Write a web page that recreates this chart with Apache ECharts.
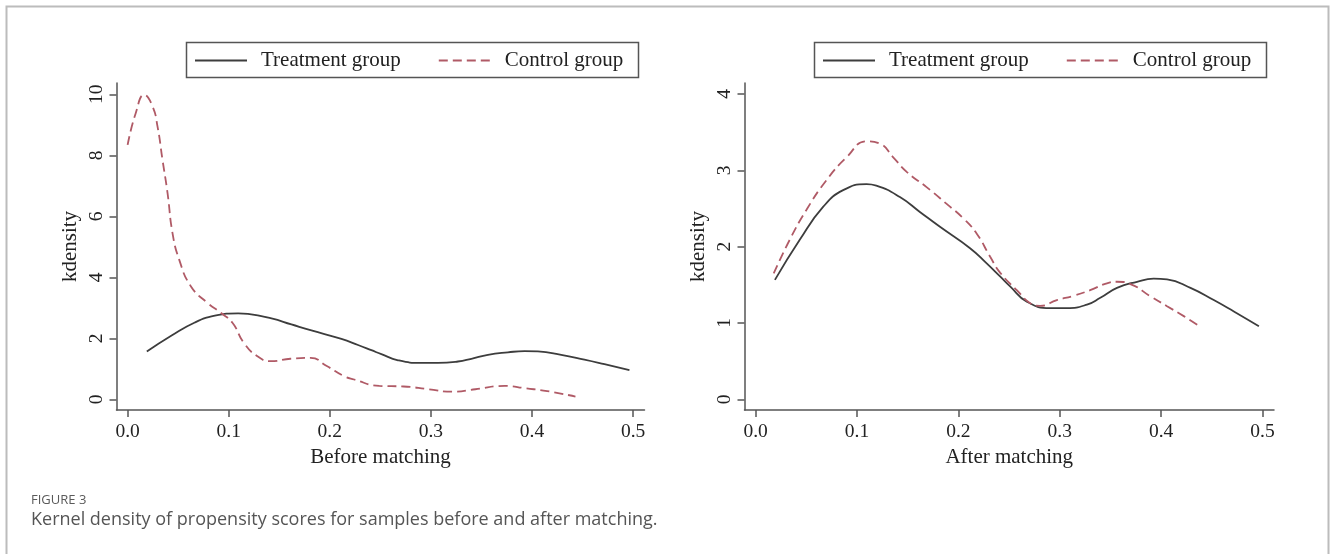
<!DOCTYPE html>
<html><head><meta charset="utf-8">
<script src="https://cdn.jsdelivr.net/npm/echarts@6/dist/echarts.min.js"></script>
<style>html,body{margin:0;padding:0;background:#fff}#c{width:1330px;height:554px}</style>
</head><body><div id="c"></div>
<script>
// ---- data ----
const xTicks = [0, 0.1, 0.2, 0.3, 0.4, 0.5];
const yTicksBefore = [0, 2, 4, 6, 8, 10];
const yTicksAfter = [0, 1, 2, 3, 4];
const seriesNames = ['Treatment group', 'Control group'];
const panelTitles = ['Before matching', 'After matching'];
const yTitle = 'kdensity';
const captionLabel = 'FIGURE 3';
const captionText = 'Kernel density of propensity scores for samples before and after matching.';

const treatment = [
  [0.019,1.565],[0.0435,2.09],[0.0665,2.52],[0.0863,2.74],[0.1094,2.82],[0.119,2.80],
  [0.1423,2.65],[0.162,2.455],[0.1818,2.26],[0.2115,1.98],[0.2279,1.78],[0.2411,1.61],
  [0.251,1.48],[0.2675,1.28],[0.2905,1.195],[0.307,1.195],[0.3268,1.24],[0.34,1.33],
  [0.3564,1.46],[0.3762,1.54],[0.3926,1.58],[0.4058,1.57],[0.4289,1.46],[0.4519,1.30],
  [0.4717,1.15],[0.4964,0.956]
];
const controlBefore = [
  [0.0,8.34],[0.008,9.38],[0.0164,9.98],[0.0247,9.6],[0.0296,8.94],[0.0345,7.85],
  [0.0395,6.76],[0.0444,5.45],[0.051,4.58],[0.0625,3.71],[0.079,3.16],[0.092,2.84],
  [0.1037,2.51],[0.115,1.85],[0.128,1.42],[0.1415,1.25],[0.161,1.33],[0.181,1.36],
  [0.197,1.09],[0.214,0.76],[0.224,0.65],[0.249,0.44],[0.273,0.42],[0.298,0.33],
  [0.321,0.25],[0.344,0.33],[0.373,0.44],[0.394,0.36],[0.415,0.27],[0.443,0.09]
];
const controlAfter = [
  [0.0178,1.65],[0.0336,2.09],[0.05,2.48],[0.0698,2.87],[0.0896,3.17],[0.1094,3.38],
  [0.1225,3.35],[0.1357,3.17],[0.149,2.98],[0.1686,2.78],[0.1884,2.56],[0.2049,2.37],
  [0.2181,2.17],[0.2312,1.87],[0.2411,1.66],[0.2576,1.43],[0.2708,1.26],[0.2806,1.225],
  [0.2971,1.30],[0.3136,1.356],[0.33,1.43],[0.3465,1.52],[0.3564,1.54],[0.3696,1.51],
  [0.3893,1.35],[0.4058,1.22],[0.4223,1.09],[0.438,0.956]
];

// ---- styling ----
const SERIF = '"Liberation Serif","Times New Roman",serif';
const AXIS_COLOR = '#555';
const TREAT_COLOR = '#3d3d3d';
const CTRL_COLOR = '#b05a66';

function xAxisFor(gridIndex, title) {
  return {
    type: 'value', gridIndex, min: -0.011, max: 0.5113,
    axisLine: { show: true, onZero: false, lineStyle: { color: AXIS_COLOR, width: 1.5 } },
    axisTick: { show: true, length: 7, customValues: xTicks, lineStyle: { color: AXIS_COLOR, width: 1.5 } },
    axisLabel: { customValues: xTicks, formatter: v => v.toFixed(1), margin: 12,
                 fontFamily: SERIF, fontSize: 19.5, color: '#222' },
    splitLine: { show: false },
    name: title, nameLocation: 'middle', nameGap: 31,
    nameTextStyle: { fontFamily: SERIF, fontSize: 21, color: '#222' }
  };
}
function yAxisFor(gridIndex, min, max, ticks) {
  return {
    type: 'value', gridIndex, min, max,
    axisLine: { show: true, onZero: false, lineStyle: { color: AXIS_COLOR, width: 1.5 } },
    axisTick: { show: true, length: 7, customValues: ticks, lineStyle: { color: AXIS_COLOR, width: 1.5 } },
    axisLabel: { customValues: ticks, rotate: 90, margin: 10,
                 fontFamily: SERIF, fontSize: 19.5, color: '#222' },
    splitLine: { show: false },
    name: yTitle, nameLocation: 'middle', nameGap: 36,
    nameTextStyle: { fontFamily: SERIF, fontSize: 21, color: '#222' }
  };
}
function lineSeries(name, data, idx, color, dashed) {
  return {
    type: 'line', name, data, xAxisIndex: idx, yAxisIndex: idx,
    symbol: 'none', smooth: 0.5,
    lineStyle: { color, width: 1.8, type: dashed ? [9, 5] : 'solid' },
    itemStyle: { color }, silent: true
  };
}
function legendFor(left) {
  return {
    left, top: 50, padding: 0, itemWidth: 52, itemHeight: 22, itemGap: 37,
    data: seriesNames, selectedMode: false,
    itemStyle: { opacity: 0 },
    textStyle: { fontFamily: SERIF, fontSize: 21, color: '#222', padding: [0, 0, 0, 9] }
  };
}
function legendBox(x) {
  return { type: 'rect', shape: { x, y: 42.5, width: 452, height: 35 },
           style: { fill: 'none', stroke: '#555', lineWidth: 1.5 }, silent: true };
}

const chart = echarts.init(document.getElementById('c'), null, { renderer: 'canvas' });
chart.setOption({
  backgroundColor: '#fff',
  animation: false,
  grid: [
    { left: 116.5, top: 83, width: 528, height: 327 },
    { left: 744.5, top: 83, width: 529.5, height: 327 }
  ],
  xAxis: [xAxisFor(0, panelTitles[0]), xAxisFor(1, panelTitles[1])],
  yAxis: [yAxisFor(0, -0.35, 10.37, yTicksBefore), yAxisFor(1, -0.14, 4.144, yTicksAfter)],
  legend: [legendFor(194), legendFor(822)],
  series: [
    lineSeries(seriesNames[0], treatment, 0, TREAT_COLOR, false),
    lineSeries(seriesNames[1], controlBefore, 0, CTRL_COLOR, true),
    lineSeries(seriesNames[0], treatment, 1, TREAT_COLOR, false),
    lineSeries(seriesNames[1], controlAfter, 1, CTRL_COLOR, true)
  ],
  graphic: [
    { type: 'rect', shape: { x: 6.5, y: 6.5, width: 1322, height: 600 },
      style: { fill: 'none', stroke: '#bcbcbc', lineWidth: 2 }, silent: true },
    legendBox(186.5), legendBox(814.5),
    { type: 'text', left: 31, top: 494,
      style: { text: captionLabel, font: '13px "Open Sans", sans-serif', fill: '#5a5a5a' } },
    { type: 'text', left: 31, top: 511,
      style: { text: captionText, font: '18px "Open Sans", sans-serif', fill: '#555' } }
  ]
});
</script>
</body></html>
